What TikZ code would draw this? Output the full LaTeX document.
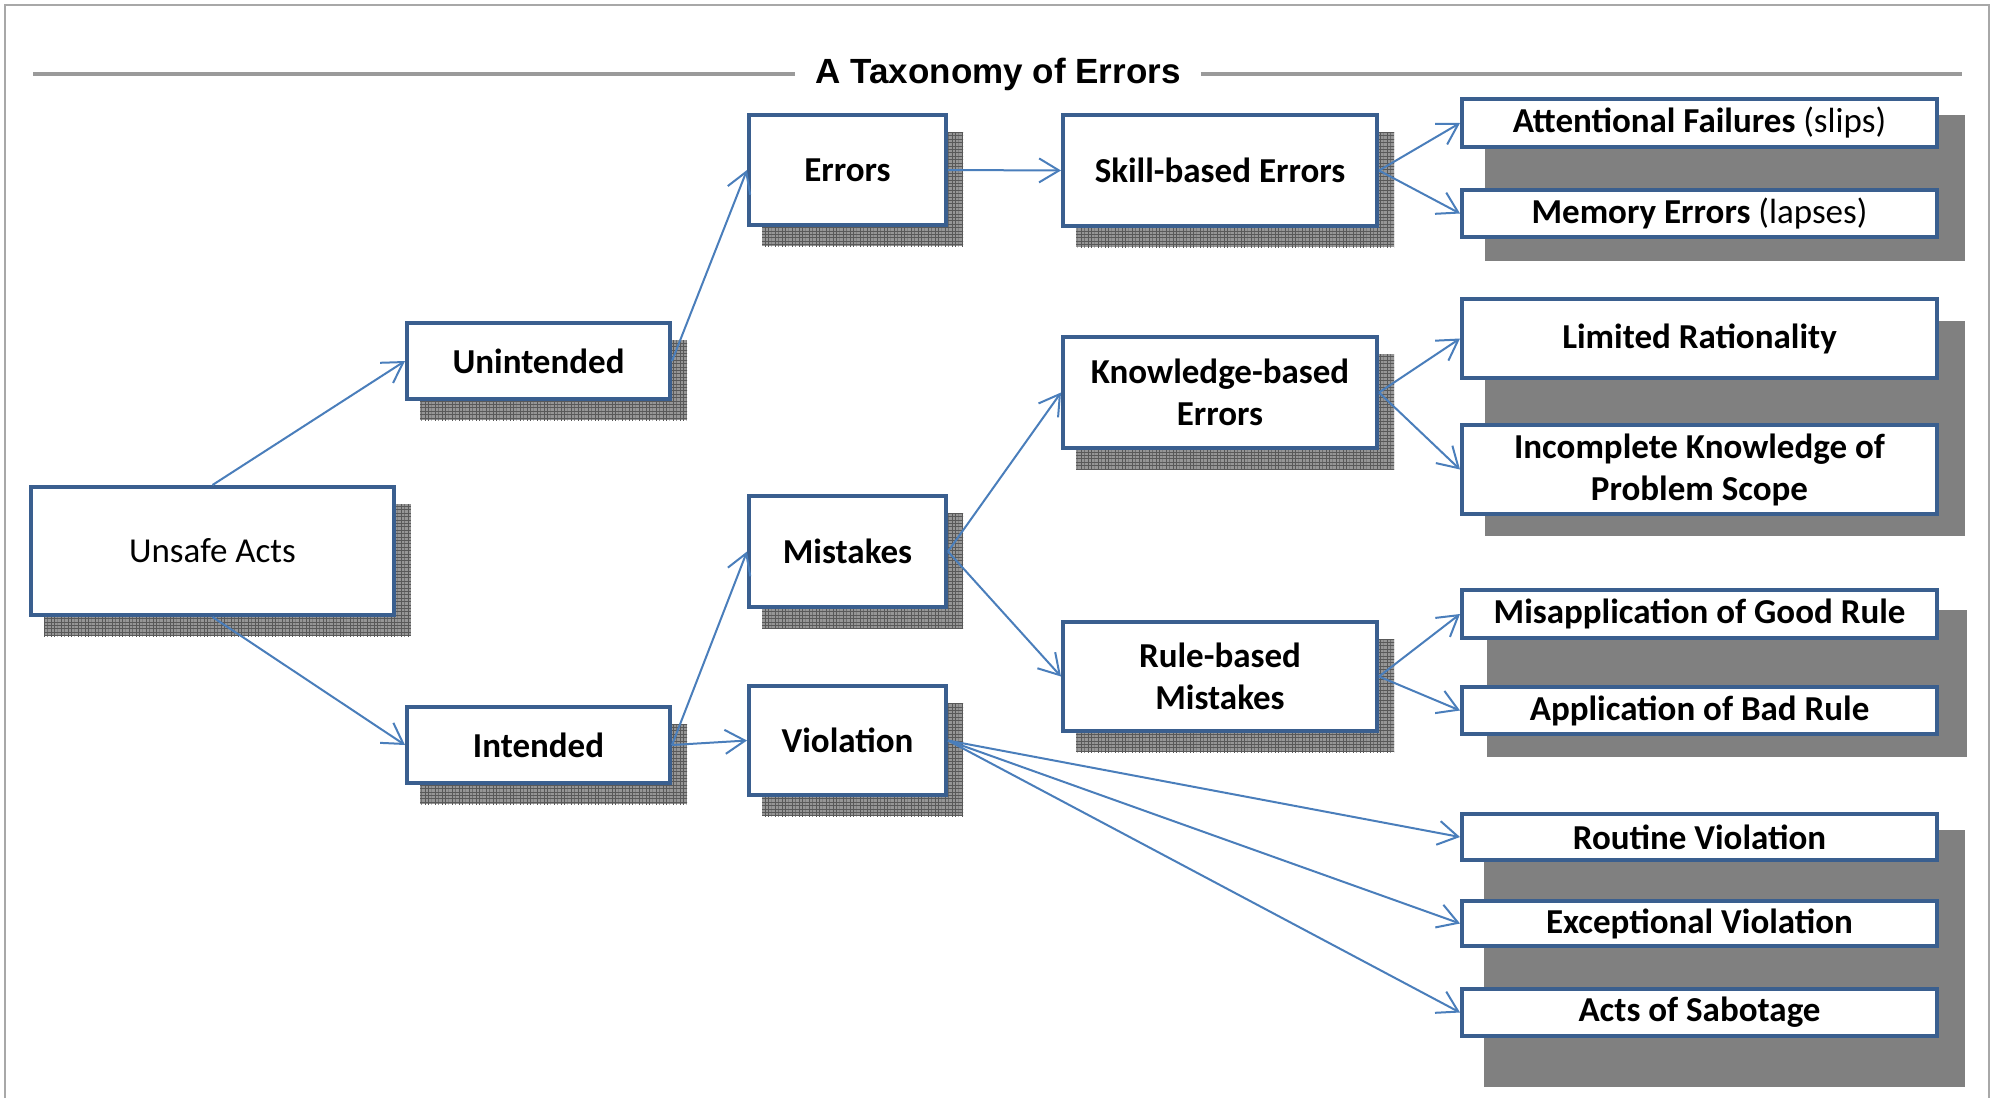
\documentclass[tikz,border=0pt]{standalone}
\usepackage{fontspec}
\setmainfont{Carlito}
\newfontfamily\titlefont{Liberation Sans}
\usetikzlibrary{arrows.meta,patterns,backgrounds}

\definecolor{boxblue}{HTML}{3A5F8F}
\definecolor{linkblue}{HTML}{4A7EBB}
\definecolor{panelgray}{HTML}{808080}
\definecolor{hatchbase}{HTML}{969696}
\definecolor{rulegray}{HTML}{9A9A9A}
\definecolor{framegray}{HTML}{A8A8A8}

% fine square grid used for the hatched drop shadows
\pgfdeclarepatternformonly{finegrid}{\pgfqpoint{-0.1pt}{-0.1pt}}{\pgfqpoint{1.8pt}{1.8pt}}{\pgfqpoint{1.7pt}{1.7pt}}{%
  \pgfsetlinewidth{0.45pt}%
  \pgfpathmoveto{\pgfqpoint{0pt}{0pt}}\pgfpathlineto{\pgfqpoint{1.7pt}{0pt}}%
  \pgfpathmoveto{\pgfqpoint{0pt}{0pt}}\pgfpathlineto{\pgfqpoint{0pt}{1.7pt}}%
  \pgfusepath{stroke}}

\begin{document}
\begin{tikzpicture}[
  x=0.5pt, y=-0.5pt,
  box/.style={draw=boxblue, line width=2pt, fill=white, align=center,
    inner sep=0pt, font=\fontsize{17.5}{21}\selectfont\bfseries},
  leaf/.style={box, line width=1.8pt, minimum width=237.7pt},
  link/.style={draw=linkblue, line width=1pt,
    -{Straight Barb[length=10pt,width=12pt,line width=1pt]}},
  hatch/.style={fill=hatchbase, postaction={pattern=finegrid, pattern color=black!65}},
  panel/.style={fill=panelgray},
]
\useasboundingbox (0,0) rectangle (1991,1098);

% outer frame, open at the bottom
\draw[framegray, line width=1pt] (5,1098) -- (5,5) -- (1989,5) -- (1989,1098);

% title with rules on both sides
\node[font=\titlefont\bfseries\fontsize{17.5}{21}\selectfont, inner xsep=10pt, anchor=base]
  (title) at (998,83) {A Taxonomy of Errors};
\coordinate (rl) at (33,73.5);
\coordinate (rr) at (1962,73.5);
\draw[rulegray, line width=2pt] (rl) -- (rl -| title.west);
\draw[rulegray, line width=2pt] (title.east |- rr) -- (rr);

% main tree
\node[box, font=\fontsize{17.5}{21}\selectfont, minimum width=181.5pt, minimum height=64pt] (ua) at (212.5,551) {Unsafe Acts};
\node[box, minimum width=131.5pt, minimum height=38pt] (unint) at (538.5,361) {Unintended};
\node[box, minimum width=131.5pt, minimum height=38pt] (intd) at (538.5,745) {Intended};
\node[box, minimum width=98.5pt, minimum height=55pt] (err) at (847.5,170) {Errors};
\node[box, minimum width=98.5pt, minimum height=55.5pt] (mist) at (847.5,551.5) {Mistakes};
\node[box, minimum width=98.5pt, minimum height=54.5pt] (viol) at (847.5,740.5) {Violation};
\node[box, minimum width=157pt, minimum height=55.5pt] (skill) at (1220,170.5) {Skill-based Errors};
\node[box, minimum width=157pt, minimum height=55.5pt] (know) at (1220,392.5) {Knowledge-based\\Errors};
\node[box, minimum width=157pt, minimum height=54.5pt] (rule) at (1220,676.5) {Rule-based\\Mistakes};

% leaf categories
\node[leaf, minimum height=24.2pt] (att) at (1699.5,123) {Attentional Failures \mdseries(slips)};
\node[leaf, minimum height=23.7pt] (mem) at (1699.5,213.5) {Memory Errors \mdseries(lapses)};
\node[leaf, minimum height=39.7pt] (lim) at (1699.5,338.5) {Limited Rationality};
\node[leaf, minimum height=44.7pt] (inc) at (1699.5,469.5) {Incomplete Knowledge of\\Problem Scope};
\node[leaf, minimum height=24.2pt] (mis) at (1699.5,614) {Misapplication of Good Rule};
\node[leaf, minimum height=23.7pt] (app) at (1699.5,710.5) {Application of Bad Rule};
\node[leaf, minimum height=23.2pt] (rou) at (1699.5,837) {Routine Violation};
\node[leaf, minimum height=22.7pt] (exc) at (1699.5,923.5) {Exceptional Violation};
\node[leaf, minimum height=23.7pt] (act) at (1699.5,1012.5) {Acts of Sabotage};

% shadows and grey panels behind the boxes
\begin{scope}[on background layer]
  \foreach \n in {ua,unint,intd,err,mist,viol,skill,know,rule}
    \fill[hatch] ([shift={(15,19)}]\n.north west) rectangle ([shift={(15,19)}]\n.south east);
  \fill[panel] (1485,115) rectangle (1965,261);
  \fill[panel] (1485,321) rectangle (1965,536);
  \fill[panel] (1487,610) rectangle (1967,757);
  \fill[panel] (1484,830) rectangle (1965,1087);
\end{scope}

% connectors
\draw[link] (ua.north) -- (unint.west);
\draw[link] (ua.south) -- (intd.west);
\draw[link] (unint.east) -- (err.west);
\draw[link] (intd.east) -- (mist.west);
\draw[link] (intd.east) -- (viol.west);
\draw[link] (err.east) -- (skill.west);
\draw[link] (mist.east) -- (know.west);
\draw[link] (mist.east) -- (rule.west);
\draw[link] (skill.east) -- (att.west);
\draw[link] (skill.east) -- (mem.west);
\draw[link] (know.east) -- (lim.west);
\draw[link] (know.east) -- (inc.west);
\draw[link] (rule.east) -- (mis.west);
\draw[link] (rule.east) -- (app.west);
\draw[link] (viol.east) -- (rou.west);
\draw[link] (viol.east) -- (exc.west);
\draw[link] (viol.east) -- (act.west);
\end{tikzpicture}
\end{document}
